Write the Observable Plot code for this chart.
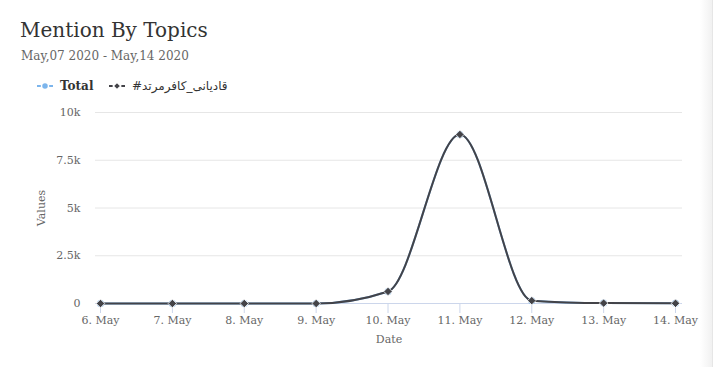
<!DOCTYPE html>
<html><head><meta charset="utf-8">
<script src="https://cdn.jsdelivr.net/npm/d3@7"></script>
<script src="https://cdn.jsdelivr.net/npm/@observablehq/plot@0.6"></script>
<style>
body{margin:0;background:#fff;font-family:"DejaVu Serif",serif;}
#wrap{position:relative;width:714px;height:367px;overflow:hidden;background:#fff}
#head{height:100px;position:relative}
.title{position:absolute;left:20px;top:18px;font-size:20px;color:#333;white-space:nowrap}
.sub{position:absolute;left:21px;top:49px;font-size:12px;color:#666;white-space:nowrap}
.leg{position:absolute;top:79px;display:flex;align-items:center;font-family:"DejaVu Serif",serif;font-size:12px;font-weight:bold;color:#333;white-space:nowrap}
.leg svg{margin-right:7px}
.ar{font-family:"DejaVu Sans",sans-serif;font-weight:normal;font-size:12px}
#edge{position:absolute;left:700px;top:0;width:12px;height:367px;background:linear-gradient(to right,rgba(240,240,240,0),#f1f1f1)}
#edge2{position:absolute;left:712px;top:0;width:1px;height:367px;background:#e6e6e6}
</style></head>
<body><div id="wrap">
<div id="head">
  <div class="title">Mention By Topics</div>
  <div class="sub">May,07 2020 - May,14 2020</div>
  <div class="leg" id="leg1" style="left:37px"></div>
  <div class="leg" id="leg2" style="left:109px"></div>
</div>
<div id="chart"></div>
<div id="edge"></div><div id="edge2"></div>
</div>
<script>
const dates = ["2020-05-06","2020-05-07","2020-05-08","2020-05-09","2020-05-10","2020-05-11","2020-05-12","2020-05-13","2020-05-14"];
const xTickLabels = ["6. May","7. May","8. May","9. May","10. May","11. May","12. May","13. May","14. May"];
const seriesNames = ["Total","#قادیانی_کافرمرتد"];
const totalValues = [0,0,0,0,630,8850,150,20,10];
const topicValues = [0,0,0,0,630,8850,150,20,10];
const yTicks = [0,2500,5000,7500,10000];
const yTickLabels = ["0","2.5k","5k","7.5k","10k"];
const colors = ["#7cb5ec","#434348"];

const day = 864e5;
const xDates = dates.map(d => new Date(d + "T00:00:00Z"));
const totalData = xDates.map((d,i) => ({date:d, value:totalValues[i]}));
const topicData = xDates.map((d,i) => ({date:d, value:topicValues[i]}));
const labelOf = new Map(xDates.map((d,i)=>[+d, xTickLabels[i]]));
const yLabelOf = new Map(yTicks.map((v,i)=>[v, yTickLabels[i]]));

function legendSymbol(color, symbol){
  const s = d3.create("svg").attr("width",16).attr("height",10);
  s.append("line").attr("x1",0).attr("x2",16).attr("y1",5).attr("y2",5).attr("stroke",color).attr("stroke-width",2);
  if(symbol==="circle") s.append("circle").attr("cx",8).attr("cy",5).attr("r",3.5).attr("fill",color).attr("stroke","#fff").attr("stroke-width",1.5);
  else s.append("path").attr("d","M8,1.2L11.8,5L8,8.8L4.2,5Z").attr("fill",color).attr("stroke","#fff").attr("stroke-width",1.5);
  return s.node();
}
const l1 = document.getElementById("leg1");
l1.appendChild(legendSymbol(colors[0],"circle"));
l1.appendChild(document.createTextNode(seriesNames[0]));
const l2 = document.getElementById("leg2");
l2.appendChild(legendSymbol(colors[1],"diamond"));
const t2 = document.createElement("span"); t2.className="ar"; t2.textContent = seriesNames[1]; l2.appendChild(t2);

const plot = Plot.plot({
  width:714, height:267,
  marginTop:12, marginBottom:64, marginLeft:95, marginRight:32,
  style:{fontFamily:"DejaVu Serif", fontSize:"11px", color:"#666", background:"transparent"},
  x:{type:"utc", domain:[new Date(+xDates[0]-0.07*day), new Date(+xDates[8]+0.097*day)]},
  y:{domain:[0,10000]},
  marks:[
    Plot.ruleY(yTicks.slice(1), {stroke:"#e6e6e6", strokeWidth:1}),
    Plot.ruleY([0], {stroke:"#ccd6eb", strokeWidth:1}),
    Plot.axisX({ticks:xDates, tickFormat:d=>labelOf.get(+d), tickSize:10, tickPadding:3, stroke:"#ccd6eb", strokeOpacity:1, fill:"#666",
      label:"Date", labelAnchor:"center", labelArrow:"none", labelOffset:39, fontSize:11}),
    Plot.axisY({ticks:yTicks, tickFormat:d=>yLabelOf.get(d), tickSize:0, tickPadding:15, fill:"#666",
      label:"Values", labelAnchor:"center", labelArrow:"none", labelOffset:58}),
    Plot.line(totalData, {x:"date", y:"value", stroke:colors[0], strokeWidth:2, curve:"monotone-x"}),
    Plot.dot(totalData, {x:"date", y:"value", fill:colors[0], r:3.5, symbol:"circle"}),
    Plot.line(topicData, {x:"date", y:"value", stroke:colors[1], strokeWidth:2, curve:"monotone-x"}),
    Plot.dot(topicData, {x:"date", y:"value", fill:colors[1], r:3.8, symbol:"diamond2", stroke:"#fff", strokeWidth:0.8})
  ]
});
document.getElementById("chart").appendChild(plot);
</script>
</body></html>
